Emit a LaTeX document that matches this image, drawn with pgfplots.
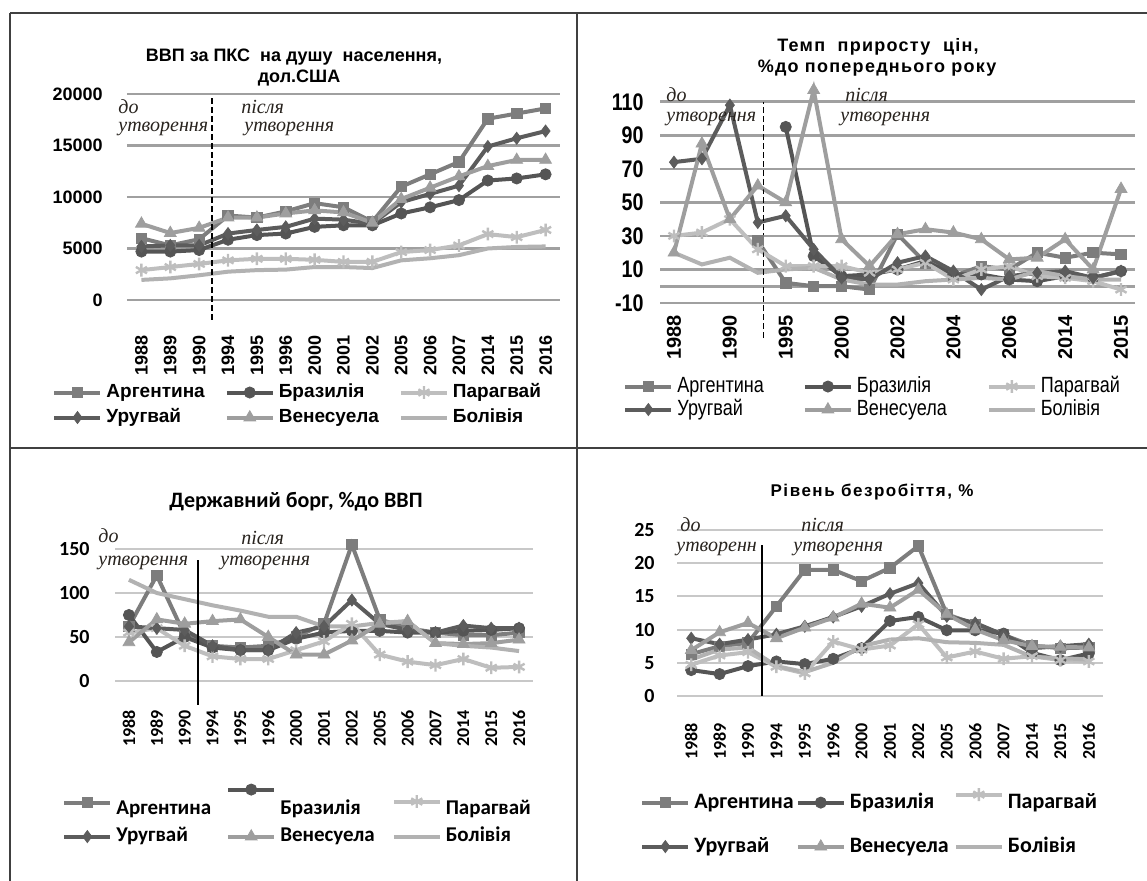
\documentclass[border=0pt]{standalone}
\usepackage{pgfplots}
\pgfplotsset{compat=1.18}
\usepackage{pgfplotstable}
\usepackage{fontspec}
\setmainfont{Liberation Sans}
\newfontfamily\ser{Liberation Serif}
\newfontfamily\carlito{Carlito}
\newfontfamily\narrow[FakeStretch=0.82]{Liberation Sans}

\definecolor{cArg}{RGB}{125,125,125}
\definecolor{cBra}{RGB}{85,85,85}
\definecolor{cPar}{RGB}{190,190,190}
\definecolor{cUru}{RGB}{92,92,92}
\definecolor{cVen}{RGB}{158,158,158}
\definecolor{cBol}{RGB}{178,178,178}
\definecolor{gridA}{RGB}{160,160,160}
\definecolor{gridB}{RGB}{200,200,200}
\definecolor{annot}{RGB}{40,35,30}

\pgfplotsset{
  base/.style={
    scale only axis, clip=false,
    axis line style={draw=none},
    major tick length=0pt,
    scaled y ticks=false,
    ymajorgrids,
    legend columns=3,
    legend cell align=left,
    every axis plot/.append style={line width=2pt},
    limg=0pt,
  },
  limg/.style={legend image code/.code={\draw[mark repeat=2,mark phase=2,##1] plot coordinates {(0pt,#1) (11.5pt,#1) (23pt,#1)};}},
  sArg/.style={color=cArg, mark=square*, mark size=2.6pt, mark options={solid, line width=0.4pt}},
  sBra/.style={color=cBra, mark=*, mark size=2.8pt, mark options={solid, line width=0.4pt}},
  sPar/.style={color=cPar, mark=asterisk, mark size=3.2pt, mark options={solid, line width=1.2pt}},
  sUru/.style={color=cUru, mark=diamond*, mark size=3pt, mark options={solid, line width=0.4pt}},
  sVen/.style={color=cVen, mark=triangle*, mark size=3.4pt, mark options={solid, line width=0.4pt}},
  sBol/.style={color=cBol, mark=none},
}

% ВВП за ПКС на душу населення
\pgfplotstableread{
x arg bra par uru ven bol
0 6000 4700 2900 5200 7400 1950
1 5300 4700 3200 5300 6500 2100
2 5900 4850 3500 5300 7000 2400
3 8200 5850 3850 6450 8000 2750
4 8000 6300 4000 6800 8000 2900
5 8600 6450 4000 7100 8400 2950
6 9400 7100 3900 7900 8700 3200
7 9000 7250 3700 7800 8500 3200
8 7600 7250 3700 7400 7500 3100
9 11000 8400 4650 9500 9800 3850
10 12200 9000 4850 10300 10900 4050
11 13400 9700 5300 11100 12000 4350
12 17600 11600 6400 14900 13000 5000
13 18100 11800 6100 15700 13600 5150
14 18600 12200 6800 16400 13600 5200
}\tGdp

% Темп приросту цін
\pgfplotstableread{
x arg bra par uru ven bol
0 nan nan 30 74 20 20
1 nan nan 32 76 85 13
2 nan nan 40 108 40 17
3 27 nan 22 38 60 8
4 2 95 12 42 50 10
5 0 18 12 22 117 11
6 0 6 12 5 28 4
7 -2 7 8 4 12 1
8 31 10 10 14 31 1
9 14 15 14 18 34 3
10 6 7 4 9 32 4
11 12 7 10 -2 28 5
12 10 4 12 6 16 4
13 20 3 6 8 17 9
14 17 6 5 9 28 6
15 20 5 3 5 10 4
16 19 9 -2 9 58 4
}\tInf

% Державний борг
\pgfplotstableread{
x arg bra par uru ven bol
0 62 75 55 62 44 115
1 120 33 60 60 70 100
2 52 50 40 58 65 93
3 40 38 28 40 68 86
4 38 35 25 35 70 80
5 40 35 25 35 50 73
6 50 48 35 55 30 73
7 65 55 45 62 30 62
8 155 57 65 92 46 62
9 70 57 30 65 65 66
10 60 55 22 58 68 68
11 55 55 18 55 43 43
12 52 57 25 63 42 40
13 52 58 15 60 43 38
14 55 60 16 60 47 34
}\tDebt

% Рівень безробіття
\pgfplotstableread{
x arg bra par uru ven bol
0 6.3 3.9 4.7 8.7 6.9 5.5
1 7.5 3.3 6.1 7.8 9.6 7.0
2 8.0 4.5 6.6 8.5 11.0 7.3
3 13.5 5.2 4.4 9.3 8.7 4.5
4 19.0 4.8 3.4 10.5 10.3 3.6
5 19.0 5.6 8.2 11.9 11.8 5.0
6 17.3 7.2 7.0 13.5 13.9 7.5
7 19.3 11.3 7.6 15.4 13.3 8.5
8 22.6 11.9 10.8 17.0 16.0 8.7
9 12.3 9.9 5.8 12.0 12.3 8.1
10 10.8 9.9 6.7 11.0 10.0 8.0
11 9.2 9.4 5.6 9.2 8.4 7.7
12 7.6 6.5 6.0 7.2 7.5 5.9
13 7.2 5.4 5.4 7.5 7.4 5.7
14 7.3 6.4 5.2 7.8 7.3 5.5
}\tUnemp

\begin{document}
\begin{tikzpicture}
\path[use as bounding box] (0pt,0pt) rectangle (573.5pt,-440.5pt);

% ---------- top left ----------
\begin{axis}[base, at={(63.5pt,-150pt)}, anchor=south west,
  width=216.5pt, height=103pt,
  xmin=-0.5, xmax=14.5, ymin=0, ymax=20000,
  xtick={0,...,14},
  xticklabels={1988,1989,1990,1994,1995,1996,2000,2001,2002,2005,2006,2007,2014,2015,2016},
  ytick={0,5000,10000,15000,20000}, yticklabels={0,5000,10000,15000,20000},
  grid style={line width=1.3pt, color=gridA},
  yticklabel style={font=\bfseries\fontsize{9}{10}\selectfont, anchor=east, inner sep=0pt, xshift=-12pt},
  xticklabel style={font=\bfseries\fontsize{9}{10}\selectfont, yshift=-17.5pt, rotate=90, anchor=east, inner sep=0pt},
  legend style={draw=none, fill=none, inner sep=0pt, at={(-0.173,-0.621)}, anchor=south west,
    font=\bfseries\fontsize{9.5}{10}\selectfont, row sep=2.5pt,
    nodes={inner xsep=2pt, inner ysep=0.5pt, text height=7pt, text depth=2pt},
    /tikz/column 2/.style={column sep=8pt}, /tikz/column 4/.style={column sep=8pt}},
]
\addplot[sArg] table[x=x,y=arg]{\tGdp};
\addplot[sBra] table[x=x,y=bra]{\tGdp};
\addplot[sPar] table[x=x,y=par]{\tGdp};
\addplot[sUru] table[x=x,y=uru]{\tGdp};
\addplot[sVen] table[x=x,y=ven]{\tGdp};
\addplot[sBol] table[x=x,y=bol]{\tGdp};
\legend{Аргентина,Бразилія,Парагвай,Уругвай,Венесуела,Болівія}
\draw[black, line width=0.8pt, dash pattern=on 3pt off 1.5pt] (axis cs:2.45,-1940) -- (axis cs:2.45,19800);
\end{axis}

% ---------- top right ----------
\begin{axis}[base, at={(330pt,-151.5pt)}, anchor=south west,
  width=237.5pt, height=109pt,
  xmin=-0.5, xmax=16.5, ymin=-10, ymax=120,
  xtick={0,2,...,16},
  xticklabels={1988,1990,1995,2000,2002,2004,2006,2014,2015},
  ytick={-10,10,30,50,70,90,110}, yticklabels={-10,10,30,50,70,90,110},
  extra y ticks={0}, extra y tick labels={},
  grid style={line width=1.3pt, color=gridA},
  yticklabel style={font=\narrow\bfseries\fontsize{12}{12}\selectfont, anchor=east, inner sep=0pt, xshift=-8pt},
  xticklabel style={font=\bfseries\fontsize{10}{11}\selectfont, yshift=-6pt, rotate=90, anchor=east, inner sep=0pt},
  legend style={draw=none, fill=none, inner sep=0pt, at={(-0.078,-0.541)}, anchor=south west,
    font=\narrow\fontsize{11}{11}\selectfont, row sep=0.5pt,
    nodes={inner xsep=2pt, inner ysep=0.5pt, text height=8pt, text depth=2pt},
    /tikz/column 2/.style={column sep=17.5pt}, /tikz/column 4/.style={column sep=18pt}},
]
\addplot[sArg] table[x=x,y=arg]{\tInf};
\addplot[sBra] table[x=x,y=bra]{\tInf};
\addplot[sPar] table[x=x,y=par]{\tInf};
\addplot[sUru] table[x=x,y=uru]{\tInf};
\addplot[sVen] table[x=x,y=ven]{\tInf};
\addplot[sBol] table[x=x,y=bol]{\tInf};
\legend{Аргентина,Бразилія,Парагвай,Уругвай,Венесуела,Болівія}
\draw[black, line width=0.8pt, dash pattern=on 3pt off 1.5pt] (axis cs:3.2,-31) -- (axis cs:3.2,110);
\end{axis}

% ---------- bottom left ----------
\begin{axis}[base, at={(57.5pt,-340.5pt)}, anchor=south west,
  width=209pt, height=66pt,
  xmin=-0.5, xmax=14.5, ymin=0, ymax=150,
  xtick={0,...,14},
  xticklabels={1988,1989,1990,1994,1995,1996,2000,2001,2002,2005,2006,2007,2014,2015,2016},
  ytick={0,50,100,150}, yticklabels={0,50,100,150},
  grid style={line width=1pt, color=gridB},
  yticklabel style={font=\carlito\bfseries\fontsize{10}{11}\selectfont, anchor=east, inner sep=0pt, xshift=-12.5pt},
  xticklabel style={font=\carlito\bfseries\fontsize{9}{10}\selectfont, yshift=-14.5pt, rotate=90, anchor=east, inner sep=0pt},
  legend style={draw=none, fill=none, inner sep=0pt, at={(-0.127,-1.265)}, anchor=south west,
    font=\carlito\bfseries\fontsize{10.5}{11}\selectfont, row sep=2.5pt,
    nodes={inner xsep=2pt, inner ysep=0.5pt, text height=7.5pt, text depth=2.5pt},
    /tikz/column 2/.style={column sep=5.5pt}, /tikz/column 4/.style={column sep=6.5pt}},
]
\addplot[sArg, limg=3.5pt] table[x=x,y=arg]{\tDebt};
\addplot[sBra, limg=10pt] table[x=x,y=bra]{\tDebt};
\addplot[sPar, limg=4pt] table[x=x,y=par]{\tDebt};
\addplot[sUru] table[x=x,y=uru]{\tDebt};
\addplot[sVen] table[x=x,y=ven]{\tDebt};
\addplot[sBol] table[x=x,y=bol]{\tDebt};
\legend{Аргентина,Бразилія,Парагвай,Уругвай,Венесуела,Болівія}
\draw[black, line width=0.8pt] (axis cs:2.48,-27) -- (axis cs:2.48,137);
\end{axis}

% ---------- bottom right ----------
\begin{axis}[base, at={(338.5pt,-348pt)}, anchor=south west,
  width=213pt, height=83pt,
  xmin=-0.5, xmax=14.5, ymin=0, ymax=25,
  xtick={0,...,14},
  xticklabels={1988,1989,1990,1994,1995,1996,2000,2001,2002,2005,2006,2007,2014,2015,2016},
  ytick={0,5,10,15,20,25}, yticklabels={0,5,10,15,20,25},
  grid style={line width=1pt, color=gridB},
  yticklabel style={font=\carlito\bfseries\fontsize{10}{11}\selectfont, anchor=east, inner sep=0pt, xshift=-11pt},
  xticklabel style={font=\carlito\bfseries\fontsize{9}{10}\selectfont, yshift=-13.5pt, rotate=90, anchor=east, inner sep=0pt},
  legend style={draw=none, fill=none, inner sep=0pt, at={(-0.087,-0.979)}, anchor=south west,
    font=\carlito\bfseries\fontsize{11}{11}\selectfont, row sep=10.5pt,
    nodes={inner xsep=2pt, inner ysep=0.5pt, text height=8pt, text depth=2.5pt},
    /tikz/column 2/.style={column sep=-1pt}, /tikz/column 4/.style={column sep=0.5pt}},
]
\addplot[sArg] table[x=x,y=arg]{\tUnemp};
\addplot[sBra] table[x=x,y=bra]{\tUnemp};
\addplot[sPar, limg=4pt] table[x=x,y=par]{\tUnemp};
\addplot[sUru] table[x=x,y=uru]{\tUnemp};
\addplot[sVen] table[x=x,y=ven]{\tUnemp};
\addplot[sBol] table[x=x,y=bol]{\tUnemp};
\legend{Аргентина,Бразилія,Парагвай,Уругвай,Венесуела,Болівія}
\draw[black, line width=0.8pt] (axis cs:2.5,0) -- (axis cs:2.5,22.7);
\end{axis}

% ---------- frame, titles, notes (pixel units) ----------
\begin{scope}[x=0.5pt, y=-0.5pt]
\draw[line width=1pt, black!75] (10,13) -- (1147,13);
\draw[line width=1pt, black!75] (10,448) -- (1147,448);
\draw[line width=1pt, black!75] (10,13) -- (10,881);
\draw[line width=1pt, black!75] (577,13) -- (577,881);

\begin{scope}[every node/.style={font=\bfseries\fontsize{9}{10}\selectfont, inner sep=0pt}]
\node at (294,57) {ВВП за ПКС\ \ на душу\ \ населення,};
\node at (299,78) {дол.США};
\node[font=\bfseries\fontsize{9}{10}\selectfont\addfontfeature{LetterSpace=7}] at (878,47) {Темп\ \ приросту\ \ цін,};
\node[font=\bfseries\fontsize{9}{10}\selectfont\addfontfeature{LetterSpace=7}] at (877,68) {\%до попереднього року};
\node[font=\carlito\bfseries\fontsize{11}{12}\selectfont] at (296,502) {Державний борг, \%до ВВП};
\node[font=\bfseries\fontsize{8.5}{10}\selectfont\addfontfeature{LetterSpace=9}] at (872,492) {Рівень безробіття, \%};
\end{scope}

\begin{scope}[every node/.style={font=\ser\itshape\fontsize{10}{10}\selectfont, text=annot, anchor=west, inner sep=0pt}]
\node at (118,107) {до};
\node at (118,129) {утворення};
\node at (241,107) {після};
\node at (244,129) {утворення};
\node at (666,95) {до};
\node at (666,119) {утворення};
\node at (845,95) {після};
\node at (840,119) {утворення};
\node at (98,536) {до};
\node at (98,563) {утворення};
\node at (241,538) {після};
\node at (220,563) {утворення};
\node at (680,525) {до};
\node at (676,549) {утворенн};
\node at (801,525) {після};
\node at (793,549) {утворення};
\end{scope}
\end{scope}
\end{tikzpicture}
\end{document}
